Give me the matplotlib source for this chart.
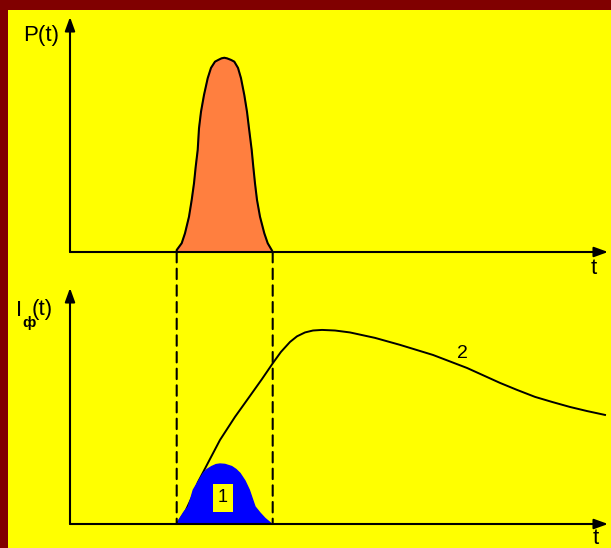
import matplotlib
matplotlib.use("Agg")
import matplotlib.pyplot as plt
from matplotlib.patches import Rectangle, ConnectionPatch

plt.rcParams["font.family"] = ["Liberation Sans", "DejaVu Sans"]

# ---------- data ----------
# top: light pulse P(t), normalised to the peak
pulse_t = [2.134, 2.134, 2.234, 2.30, 2.38, 2.434, 2.48, 2.514, 2.554, 2.58, 2.62,
           2.68, 2.754, 2.82, 2.90, 2.966, 3.03, 3.086, 3.14, 3.22, 3.286, 3.36, 3.42, 3.486,
           3.54, 3.58, 3.634, 3.666, 3.70, 3.74, 3.80, 3.886, 3.954, 4.034, 4.054]
pulse_p = [0.0, 0.01, 0.045, 0.096, 0.181, 0.267, 0.352, 0.437, 0.523, 0.634, 0.719,
           0.805, 0.891, 0.944, 0.976, 0.985, 0.993, 0.996, 0.993, 0.985, 0.976, 0.944, 0.891, 0.805,
           0.719, 0.634, 0.523, 0.437, 0.352, 0.267, 0.181, 0.096, 0.045, 0.01, 0.0]

# bottom, curve 1: photocurrent of a fast detector (blue)
fast_t = [2.134, 2.20, 2.28, 2.366, 2.42, 2.466, 2.56, 2.666, 2.74, 2.834, 2.92, 3.0,
          3.10, 3.234, 3.32, 3.40, 3.50, 3.586, 3.64, 3.70, 3.80, 3.90, 4.034]
fast_i = [0.0, 0.029, 0.062, 0.089, 0.134, 0.175, 0.216, 0.261, 0.281, 0.296, 0.306, 0.309,
          0.307, 0.296, 0.281, 0.261, 0.222, 0.175, 0.134, 0.089, 0.057, 0.029, 0.0]

# bottom, curve 2: slow detector response
slow_t = [2.134, 2.30, 2.44, 2.56, 2.78, 3.0, 3.30, 3.60, 3.84, 4.06, 4.22, 4.40, 4.54,
          4.70, 4.86, 5.04, 5.30, 5.60, 6.10, 6.60, 7.26, 7.94, 8.60, 8.94, 9.30, 9.64,
          10.0, 10.34, 10.70]
slow_i = [0.0, 0.062, 0.139, 0.216, 0.325, 0.433, 0.552, 0.660, 0.747, 0.830, 0.887, 0.938, 0.967,
          0.987, 0.997, 1.0, 0.997, 0.987, 0.959, 0.923, 0.871, 0.804, 0.727, 0.691, 0.655, 0.629,
          0.603, 0.582, 0.562]

label1_pos = (3.06, 0.134)
label2_pos = (7.84, 0.88)

W, H = 611, 548
YELLOW = "#FFFF00"
DARKRED = "#800000"

fig = plt.figure(figsize=(W / 100, H / 100), dpi=100, facecolor=DARKRED)
# yellow field inside the dark red frame (frame only left and top)
fig.patches.append(Rectangle((8 / W, 0), 1 - 8 / W, (H - 10) / H,
                             transform=fig.transFigure, facecolor=YELLOW,
                             edgecolor="none", zorder=-1))


def px_axes(x0, y_top, x1, y_bot):
    """axes from pixel box (origin top-left)"""
    return fig.add_axes([x0 / W, 1 - y_bot / H, (x1 - x0) / W, (y_bot - y_top) / H])


def arrow_axes(ax):
    for s in ax.spines.values():
        s.set_visible(False)
    ax.set_xticks([])
    ax.set_yticks([])
    ax.patch.set_alpha(0)
    props = dict(arrowstyle="-|>,head_length=0.55,head_width=0.2", lw=1.5,
                 color="black", shrinkA=0, shrinkB=0, mutation_scale=15)
    ax.annotate("", xy=(1, 0), xytext=(0, 0), xycoords="axes fraction",
                arrowprops=props, annotation_clip=False)
    ax.annotate("", xy=(0, 1), xytext=(0, 0), xycoords="axes fraction",
                arrowprops=props, annotation_clip=False)


ax1 = px_axes(70, 17, 608, 252)
ax2 = px_axes(70, 288, 608, 524)

ax1.set_xlim(0, 10.76)
ax1.set_ylim(0, 1.205)
ax2.set_xlim(0, 10.76)
ax2.set_ylim(0, 1.216)

# pulse
ax1.fill(pulse_t, pulse_p, color="#FF7F3F", zorder=2)
ax1.plot(pulse_t, pulse_p, color="black", lw=1.5, zorder=3, solid_joinstyle="round")

# curve 2 under the blue bump
ax2.plot(slow_t, slow_i, color="black", lw=1.4, zorder=2, solid_joinstyle="round")
ax2.fill(fast_t, fast_i, color="#0000FF", zorder=3)

ax2.text(*label1_pos, "1", fontsize=13, ha="center", va="center", zorder=5,
         bbox=dict(boxstyle="square,pad=0.3", facecolor=YELLOW, edgecolor="none"))
ax2.text(*label2_pos, "2", fontsize=14, ha="center", va="center")

arrow_axes(ax1)
arrow_axes(ax2)

# dashed guides from the pulse edges down to the lower time axis
for tx in (pulse_t[0], pulse_t[-1]):
    con = ConnectionPatch(xyA=(tx, 0), coordsA=ax1.transData,
                          xyB=(tx, 0), coordsB=ax2.transData,
                          color="black", lw=1.5, linestyle=(0, (5, 3)))
    fig.add_artist(con)

# axis labels
fig.text(23 / W, 1 - 25 / H, "P(t)", fontsize=16, ha="left", va="top")
fig.text(594 / W, 1 - 268 / H, "t", fontsize=16, ha="center", va="center")
fig.text(596 / W, 1 - 538 / H, "t", fontsize=16, ha="center", va="center")

fig.text(16 / W, 1 - 300 / H, "I", fontsize=16, ha="left", va="top")
fig.text(22 / W, 1 - 327 / H, "ф", fontsize=11, fontweight="bold", ha="left", va="baseline")
fig.text(32 / W, 1 - 299 / H, "(t)", fontsize=16, ha="left", va="top")

fig.savefig("out.png", dpi=100, facecolor=DARKRED)
